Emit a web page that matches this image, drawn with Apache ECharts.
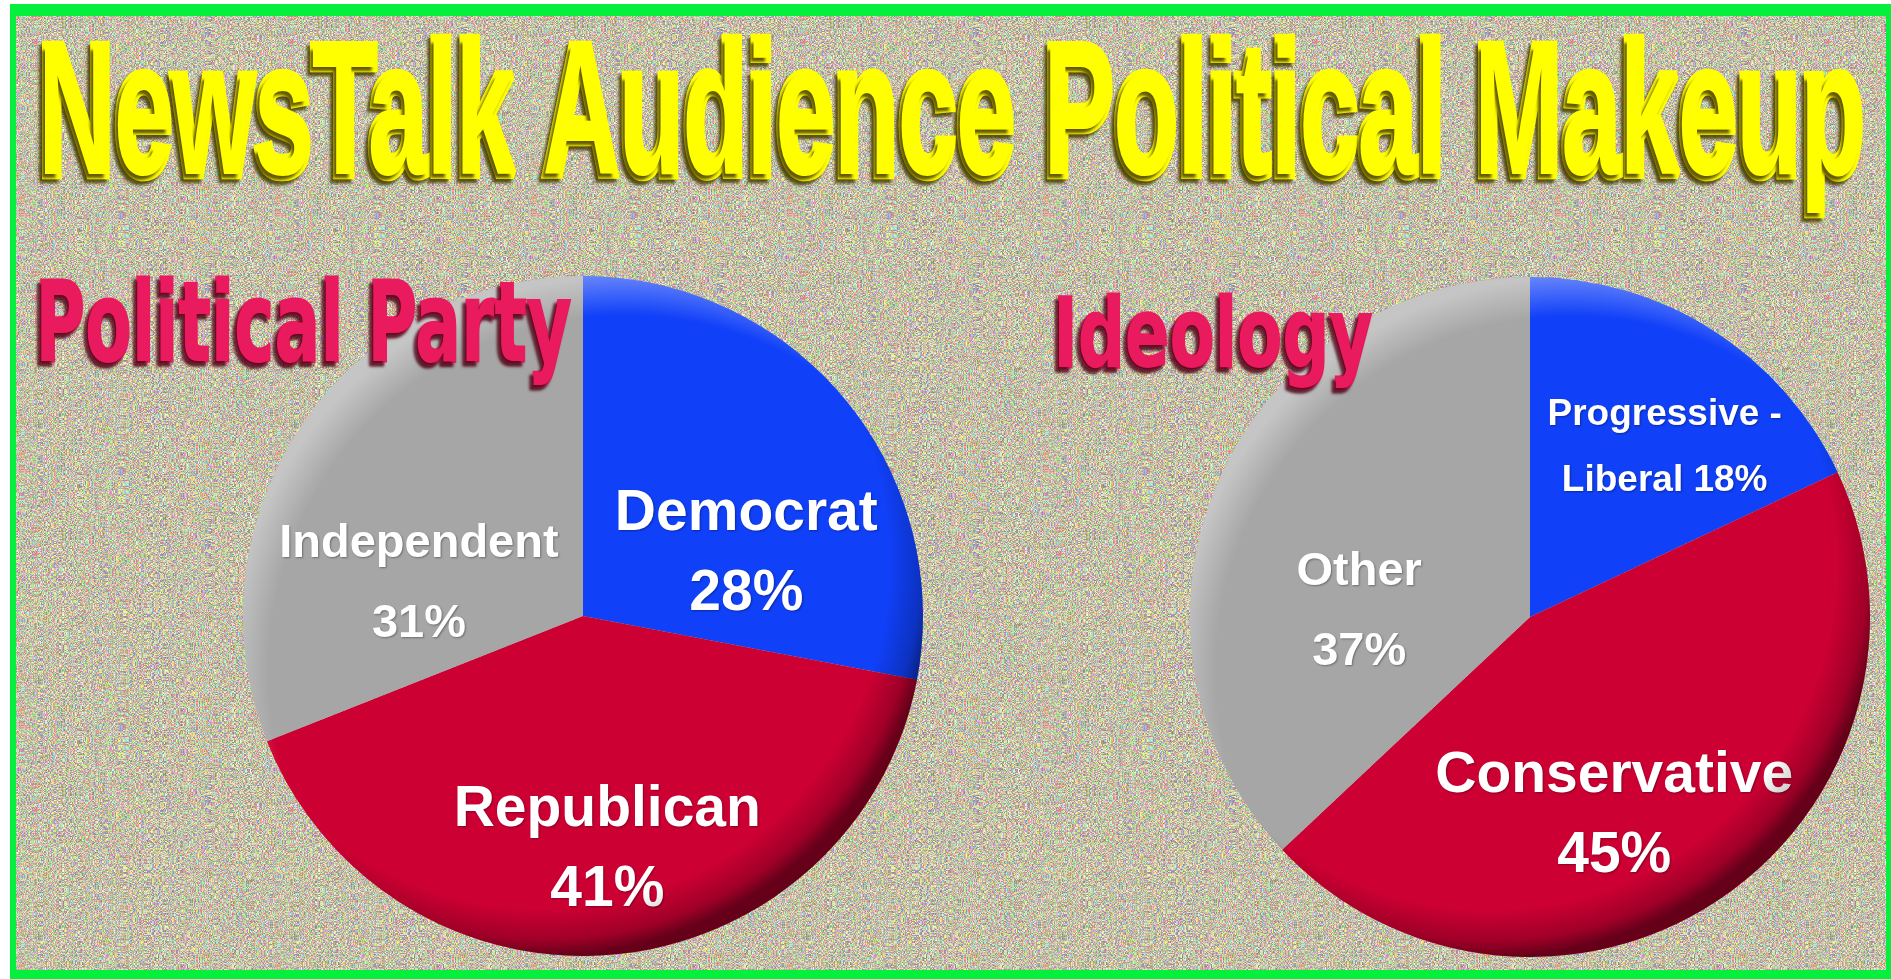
<!DOCTYPE html>
<html>
<head>
<meta charset="utf-8">
<script src="https://cdn.jsdelivr.net/npm/echarts@6/dist/echarts.min.js"></script>
<style>
  html, body { margin: 0; padding: 0; background: #fff; overflow: hidden; }
  #chart { width: 1891px; height: 979px; }
</style>
</head>
<body>
<div id="chart"></div>
<script>
// ---- data ----
const partyNames = ['Democrat', 'Republican', 'Independent'];
const partyValues = [28, 41, 31];
const ideologyNames = ['Progressive - Liberal', 'Conservative', 'Other'];
const ideologyValues = [18, 45, 37];
const titleText = 'NewsTalk Audience Political Makeup';
const partyTitle = 'Political Party';
const ideologyTitle = 'Ideology';

// ---- layout & style ----
const W = 1891, H = 979;
const SLICE_COLORS = ['#1040f8', '#cc0033', '#a6a6a6'];
const PIE_R = 340;
const PARTY_CENTER = [583, 616];
const IDEO_CENTER = [1530, 617];

// per-slice label styling: font size, line height, nudge from the default inside spot
const partyLabelStyle = [
  { size: 57, lh: 80, dx: 30, dy: 49 },
  { size: 57, lh: 80, dx: 8, dy: 62 },
  { size: 47, lh: 80, dx: -21, dy: 65 }
];
const ideologyLabelStyle = [
  { size: 37, lh: 66, dx: 42, dy: -23, wrap: true },
  { size: 57, lh: 80, dx: -13, dy: 56 },
  { size: 47, lh: 80, dx: -12, dy: 64 }
];

// speckled background tile (deterministic hash noise)
function hash(n) {
  n = (n ^ 61) ^ (n >>> 16);
  n = n + (n << 3);
  n = n ^ (n >>> 4);
  n = Math.imul(n, 0x27d4eb2d);
  n = n ^ (n >>> 15);
  return (n >>> 0) / 4294967295;
}
function makeSpeckle() {
  const size = 256;
  const c = document.createElement('canvas');
  c.width = size; c.height = size;
  const ctx = c.getContext('2d');
  const img = ctx.createImageData(size, size);
  const base = [196, 191, 168];
  const amp = 130;
  for (let y = 0; y < size; y++) {
    for (let x = 0; x < size; x++) {
      const i = (y * size + x) * 4;
      const k = (y * size + x) * 3 + 7;
      for (let ch = 0; ch < 3; ch++) {
        const v = base[ch] + (hash(k + ch) - 0.5) * amp;
        img.data[i + ch] = Math.max(0, Math.min(255, v));
      }
      img.data[i + 3] = 255;
    }
  }
  ctx.putImageData(img, 0, 0);
  // soften slightly
  const c2 = document.createElement('canvas');
  c2.width = size; c2.height = size;
  const ctx2 = c2.getContext('2d');
  ctx2.filter = 'blur(0.5px)';
  ctx2.drawImage(c, 0, 0);
  return c2;
}

function textScale(text, font, targetWidth, extra) {
  const ctx = document.createElement('canvas').getContext('2d');
  ctx.font = font;
  return (targetWidth - (extra || 0)) / ctx.measureText(text).width;
}

function pieSeries(names, values, center, labelStyle) {
  return {
    type: 'pie',
    center: center,
    radius: PIE_R,
    startAngle: 90,
    clockwise: true,
    avoidLabelOverlap: false,
    silent: true,
    labelLine: { show: false },
    itemStyle: { borderWidth: 0 },
    data: names.map((n, i) => ({
      name: n,
      value: values[i],
      itemStyle: { color: SLICE_COLORS[i] },
      label: {
        show: true,
        position: 'inside',
        color: '#ffffff',
        fontFamily: '"Liberation Sans", Arial, sans-serif',
        fontWeight: 'bold',
        fontSize: labelStyle[i].size,
        lineHeight: labelStyle[i].lh,
        align: 'center',
        textShadowColor: 'rgba(0,0,0,0.35)',
        textShadowBlur: 2,
        textShadowOffsetX: 1,
        textShadowOffsetY: 1,
        formatter: (p) => labelStyle[i].wrap
          ? p.name.replace(' - ', ' -\n') + ' ' + p.value + '%'
          : p.name + '\n' + p.value + '%'
      }
    })),
    labelLayout: (p) => ({ dx: labelStyle[p.dataIndex].dx, dy: labelStyle[p.dataIndex].dy })
  };
}

function bevel(center) {
  const shape = { cx: center[0], cy: center[1], r: PIE_R };
  return [
    {
      type: 'circle', silent: true, z: 5, shape: shape,
      style: {
        fill: {
          type: 'radial', x: 0.44, y: 0.42, r: 0.58,
          colorStops: [
            { offset: 0, color: 'rgba(0,0,0,0)' },
            { offset: 0.88, color: 'rgba(0,0,0,0)' },
            { offset: 0.96, color: 'rgba(0,0,0,0.22)' },
            { offset: 1, color: 'rgba(0,0,0,0.5)' }
          ]
        }
      }
    },
    {
      type: 'circle', silent: true, z: 5, shape: shape,
      style: {
        fill: {
          type: 'radial', x: 0.56, y: 0.58, r: 0.58,
          colorStops: [
            { offset: 0, color: 'rgba(255,255,255,0)' },
            { offset: 0.9, color: 'rgba(255,255,255,0)' },
            { offset: 1, color: 'rgba(255,255,255,0.35)' }
          ]
        }
      }
    }
  ];
}

// decorative heading text: scaled horizontally to span its box, thickened by a same-colour stroke
function heading(text, family, size, left, capTop, width, fill, shadow, thick) {
  const font = 'bold ' + size + 'px ' + family;
  const sx = textScale(text, font, width, thick);
  return {
    type: 'text', silent: true, z: 10,
    x: left + thick / 2, y: capTop - 0.13 * size,
    scaleX: sx, scaleY: 1,
    style: {
      text: text,
      font: font,
      lineHeight: size,
      fill: fill,
      align: 'left',
      verticalAlign: 'top',
      stroke: fill,
      lineWidth: thick / sx,
      lineJoin: 'round',
      textShadowColor: shadow,
      textShadowBlur: 3,
      textShadowOffsetX: -3,
      textShadowOffsetY: 4
    }
  };
}

const speckle = makeSpeckle();
const chart = echarts.init(document.getElementById('chart'), null, { renderer: 'canvas', width: W, height: H });

chart.setOption({
  backgroundColor: '#ffffff',
  animation: false,
  graphic: {
    elements: [
      { type: 'rect', silent: true, z: 0, shape: { x: 10, y: 4, width: W - 10, height: H - 4 }, style: { fill: '#04f03c' } },
      { type: 'rect', silent: true, z: 0, shape: { x: 16, y: 16, width: W - 21, height: H - 25 }, style: { fill: { image: speckle, repeat: 'repeat' } } },
      ...bevel(PARTY_CENTER),
      ...bevel(IDEO_CENTER),
      heading(titleText, '"Liberation Sans Narrow", "Arial Narrow", sans-serif', 186, 35, 54, 1832, '#ffff00', 'rgba(70,60,0,0.85)', 6),
      heading(partyTitle, '"DejaVu Sans", sans-serif', 110, 34, 292, 538, '#e91b5e', 'rgba(80,0,20,0.85)', 2),
      heading(ideologyTitle, '"DejaVu Sans", sans-serif', 96, 1052, 307, 321, '#e91b5e', 'rgba(80,0,20,0.85)', 2)
    ]
  },
  series: [
    pieSeries(partyNames, partyValues, PARTY_CENTER, partyLabelStyle),
    pieSeries(ideologyNames, ideologyValues, IDEO_CENTER, ideologyLabelStyle)
  ]
});
</script>
</body>
</html>
